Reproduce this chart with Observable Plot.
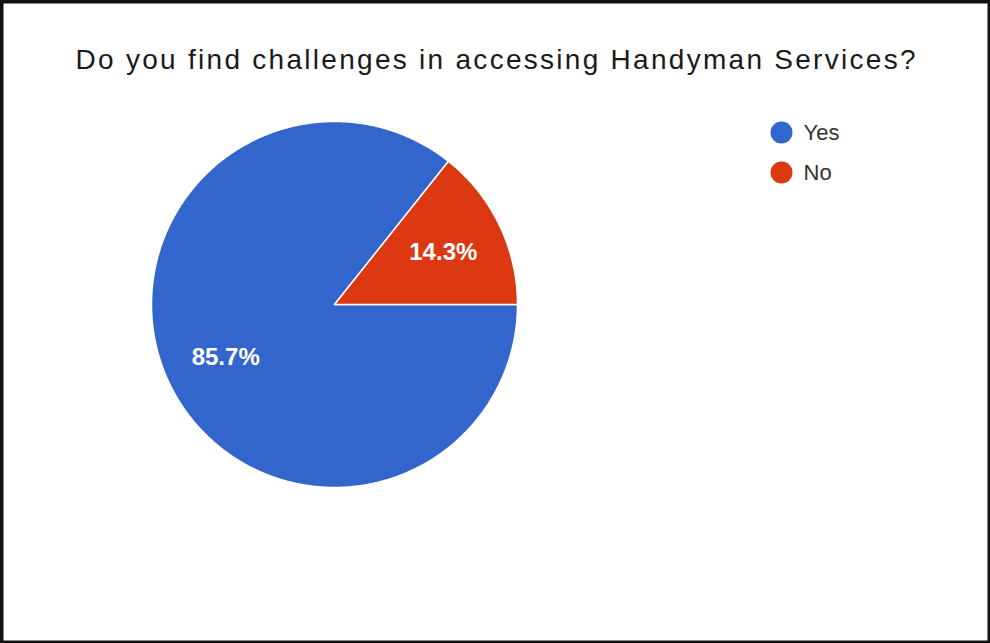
<!DOCTYPE html>
<html>
<head>
<meta charset="utf-8">
<script src="https://cdn.jsdelivr.net/npm/d3@7"></script>
<script src="https://cdn.jsdelivr.net/npm/@observablehq/plot@0.6"></script>
<style>
  html, body { margin: 0; padding: 0; background: #fff; }
  svg { display: block; }
</style>
</head>
<body>
<div id="chart"></div>
<script>
const title = "Do you find challenges in accessing Handyman Services?";
const categories = ["Yes", "No"];
const shares = [85.7, 14.3];
const sliceColors = ["#3366cc", "#dc3912"];

// layout (pixels)
const W = 990, H = 643;
const cx = 334, cy = 304, R = 183;
const toX = p => (p - cx) / R;
const toY = p => (cy - p) / R;

// pie geometry: clockwise from 12 o'clock, first slice starts at 3 o'clock
const arcs = d3.pie().sort(null)
  .startAngle(Math.PI / 2)
  .endAngle(Math.PI / 2 + 2 * Math.PI)(shares);

const slicePts = [];
arcs.forEach((a, i) => {
  const cat = categories[i];
  slicePts.push({cat, x: 0, y: 0});
  const n = Math.max(2, Math.ceil((a.endAngle - a.startAngle) / (Math.PI / 360)));
  for (let k = 0; k <= n; k++) {
    const t = a.startAngle + (a.endAngle - a.startAngle) * k / n;
    slicePts.push({cat, x: Math.sin(t), y: Math.cos(t)});
  }
  slicePts.push({cat, x: 0, y: 0});
});

const labelPts = arcs.map((a, i) => {
  const m = (a.startAngle + a.endAngle) / 2;
  return {cat: categories[i], x: 0.66 * Math.sin(m), y: 0.66 * Math.cos(m), text: d3.format(".1f")(shares[i]) + "%"};
});

const legendPts = categories.map((c, i) => ({cat: c, x: toX(781), y: toY(132 + 40 * i)}));

const chart = Plot.plot({
  width: W,
  height: H,
  margin: 0,
  x: {domain: [-1, 1], range: [cx - R, cx + R], axis: null},
  y: {domain: [-1, 1], range: [cy + R, cy - R], axis: null},
  color: {domain: categories, range: sliceColors},
  style: {fontFamily: "'Liberation Sans', Arial, sans-serif", background: "#fff"},
  marks: [
    Plot.line(slicePts, {x: "x", y: "y", z: "cat", fill: "cat", stroke: "#fff", strokeWidth: 1.5, curve: "linear"}),
    Plot.text(labelPts, {x: "x", y: "y", text: "text", fill: "#fff", fontSize: 24, fontWeight: "bold"}),
    Plot.dot(legendPts, {x: "x", y: "y", r: 11, fill: "cat", stroke: null}),
    Plot.text(legendPts, {x: "x", y: "y", text: "cat", dx: 22, textAnchor: "start", fill: "#333", fontSize: 22}),
    Plot.text([title], {frameAnchor: "top", dy: 60, lineAnchor: "middle", fill: "#1a1a1a", fontSize: 28}),
    Plot.frame({stroke: "#111", strokeWidth: 6})
  ]
});
// widen the title's letter spacing to match the reference typeface
d3.select(chart).selectAll("text")
  .filter(function () { return this.textContent === title; })
  .attr("textLength", 840)
  .attr("lengthAdjust", "spacing");
document.getElementById("chart").appendChild(chart);
</script>
</body>
</html>
